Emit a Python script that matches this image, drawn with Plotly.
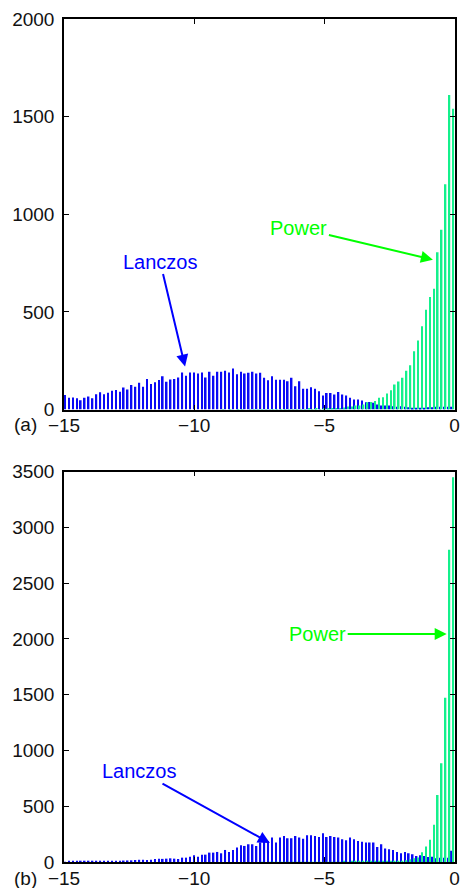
import plotly.graph_objects as go

# ---- data -------------------------------------------------------------
# histogram bin centres (100 bins of width 0.15 on [-15, 0])
bin_centers = [round(-14.925 + 0.15 * i, 3) for i in range(100)]

# panel (a)
a_lanczos = [74, 60, 62, 57, 48, 60, 66, 57, 78, 88,
             78, 86, 96, 100, 91, 113, 103, 125, 116, 137,
             116, 156, 130, 139, 151, 170, 142, 154, 156, 164,
             190, 173, 190, 190, 185, 190, 164, 193, 173, 193,
             193, 199, 190, 210, 181, 193, 185, 188, 193, 184,
             188, 162, 150, 170, 153, 153, 153, 145, 162, 119,
             145, 106, 106, 114, 106, 94, 72, 85, 85, 77,
             90, 77, 72, 60, 51, 51, 46, 37, 39, 34,
             26, 20, 20, 20, 17, 14, 17, 14, 12, 9,
             9, 9, 9, 12, 12, 14, 14, 14, 14, 14]
a_power = [0, 0, 0, 0, 0, 0, 0, 0, 0, 0,
           0, 0, 0, 0, 0, 0, 0, 0, 0, 0,
           0, 0, 0, 0, 0, 0, 0, 0, 0, 0,
           0, 0, 0, 0, 0, 0, 0, 0, 0, 0,
           1, 0, 1, 0, 1, 1, 0, 1, 1, 1,
           1, 1, 1, 2, 1, 2, 1, 2, 2, 2,
           2, 2, 3, 2, 3, 2, 5, 3, 3, 5,
           5, 10, 15, 15, 20, 20, 26, 37, 39, 43,
           60, 63, 82, 99, 128, 143, 162, 199, 227, 298,
           353, 426, 511, 576, 619, 805, 921, 1154, 1611, 1540]

# panel (b)
b_lanczos = [2, 3, 4, 5, 6, 6, 7, 8, 8, 9,
             10, 10, 11, 12, 12, 13, 14, 15, 18, 20,
             20, 18, 20, 27, 30, 28, 30, 33, 30, 27,
             39, 39, 48, 60, 48, 66, 66, 84, 84, 90,
             78, 108, 90, 108, 129, 150, 144, 159, 159, 144,
             174, 188, 188, 219, 174, 219, 233, 212, 212, 233,
             219, 209, 239, 239, 233, 224, 257, 224, 233, 224,
             219, 203, 194, 219, 203, 188, 182, 174, 174, 174,
             135, 159, 120, 114, 108, 90, 78, 90, 78, 69,
             54, 60, 54, 45, 48, 33, 39, 39, 39, 100]
b_power = [0, 0, 0, 0, 0, 0, 0, 0, 0, 0,
           0, 0, 0, 0, 0, 0, 0, 0, 0, 0,
           0, 0, 0, 0, 0, 0, 0, 0, 0, 0,
           0, 0, 0, 0, 0, 0, 0, 0, 0, 0,
           0, 0, 0, 0, 0, 0, 0, 0, 0, 0,
           1, 0, 1, 1, 1, 1, 1, 1, 1, 1,
           1, 1, 2, 1, 2, 2, 2, 2, 2, 2,
           2, 3, 2, 3, 3, 3, 3, 3, 3, 4,
           3, 4, 5, 6, 8, 10, 12, 15, 24, 33,
           40, 88, 140, 200, 335, 600, 885, 1474, 2800, 3450]

x_ticks = [-15, -10, -5, 0]
a_y_ticks = [0, 500, 1000, 1500, 2000]
b_y_ticks = [0, 500, 1000, 1500, 2000, 2500, 3000, 3500]

# ---- style ------------------------------------------------------------
BLUE_BAR = "#0a0af5"
GREEN_BAR = "#14f08c"
BLUE_TXT = "#0000ff"
GREEN_TXT = "#00ff00"
FONT = "Liberation Sans, Arial, Helvetica, sans-serif"
W, H = 462, 888

fig = go.Figure()
fig.add_trace(go.Bar(x=bin_centers, y=a_lanczos, marker=dict(color=BLUE_BAR, line=dict(width=0)),
                     xaxis="x", yaxis="y", offsetgroup="L", showlegend=False))
fig.add_trace(go.Bar(x=bin_centers, y=a_power, marker=dict(color=GREEN_BAR, line=dict(width=0)),
                     xaxis="x", yaxis="y", offsetgroup="P", showlegend=False))
fig.add_trace(go.Bar(x=bin_centers, y=b_lanczos, marker=dict(color=BLUE_BAR, line=dict(width=0)),
                     xaxis="x2", yaxis="y2", offsetgroup="L", showlegend=False))
fig.add_trace(go.Bar(x=bin_centers, y=b_power, marker=dict(color=GREEN_BAR, line=dict(width=0)),
                     xaxis="x2", yaxis="y2", offsetgroup="P", showlegend=False))

x_dom = [64 / W, 454.5 / W]
top_dom = [(H - 409.5) / H, (H - 19) / H]
bot_dom = [(H - 862) / H, (H - 471.7) / H]

axis_common = dict(showline=True, linecolor="black", linewidth=1.5, mirror="allticks",
                   ticks="inside", ticklen=5, tickwidth=1, tickcolor="black",
                   showgrid=False, zeroline=False, automargin=False,
                   tickfont=dict(family=FONT, size=19, color="#111111"))

fig.update_layout(
    width=W, height=H,
    template="none",
    paper_bgcolor="white", plot_bgcolor="white",
    margin=dict(l=0, r=0, t=0, b=0),
    barmode="group", bargap=0.18, bargroupgap=0.0,
    xaxis=dict(domain=x_dom, range=[-15, 0], tickvals=x_ticks, anchor="y",
               ticklabelstandoff=-2, **axis_common),
    yaxis=dict(domain=top_dom, range=[0, 2000], tickvals=a_y_ticks, anchor="x",
               ticklabelstandoff=4, **axis_common),
    xaxis2=dict(domain=x_dom, range=[-15, 0], tickvals=x_ticks, anchor="y2",
                ticklabelstandoff=-2, **axis_common),
    yaxis2=dict(domain=bot_dom, range=[0, 3500], tickvals=b_y_ticks, anchor="x2",
                ticklabelstandoff=4, **axis_common),
)

arrow_common = dict(showarrow=True, arrowhead=2, arrowsize=1.2, arrowwidth=2,
                    standoff=0, startstandoff=0)
fig.add_annotation(x=-10.35, y=220, xref="x", yref="y", ax=-25, ay=-105,
                   text="Lanczos", font=dict(family=FONT, size=20, color=BLUE_TXT),
                   arrowcolor=BLUE_TXT, **arrow_common)
fig.add_annotation(x=-0.83, y=767, xref="x", yref="y", ax=-134, ay=-32,
                   text="Power", font=dict(family=FONT, size=20, color=GREEN_TXT),
                   arrowcolor=GREEN_TXT, **arrow_common)
fig.add_annotation(x=-0.30, y=2045, xref="x2", yref="y2", ax=-129, ay=0,
                   text="Power", font=dict(family=FONT, size=20, color=GREEN_TXT),
                   arrowcolor=GREEN_TXT, **arrow_common)
fig.add_annotation(x=-7.09, y=170, xref="x2", yref="y2", ax=-130, ay=-72,
                   text="Lanczos", font=dict(family=FONT, size=20, color=BLUE_TXT),
                   arrowcolor=BLUE_TXT, **arrow_common)

fig.add_annotation(x=25 / W, y=(H - 424) / H, xref="paper", yref="paper", showarrow=False,
                   text="(a)", font=dict(family=FONT, size=19, color="#111111"),
                   xanchor="center", yanchor="middle")
fig.add_annotation(x=25 / W, y=(H - 878) / H, xref="paper", yref="paper", showarrow=False,
                   text="(b)", font=dict(family=FONT, size=19, color="#111111"),
                   xanchor="center", yanchor="middle")

fig.write_html(
    "out.html",
    config={"displayModeBar": False},
    post_script="document.body.style.margin='0';document.body.style.padding='0';"
                "document.body.style.overflow='hidden';"
                "document.documentElement.style.overflow='hidden';",
)
